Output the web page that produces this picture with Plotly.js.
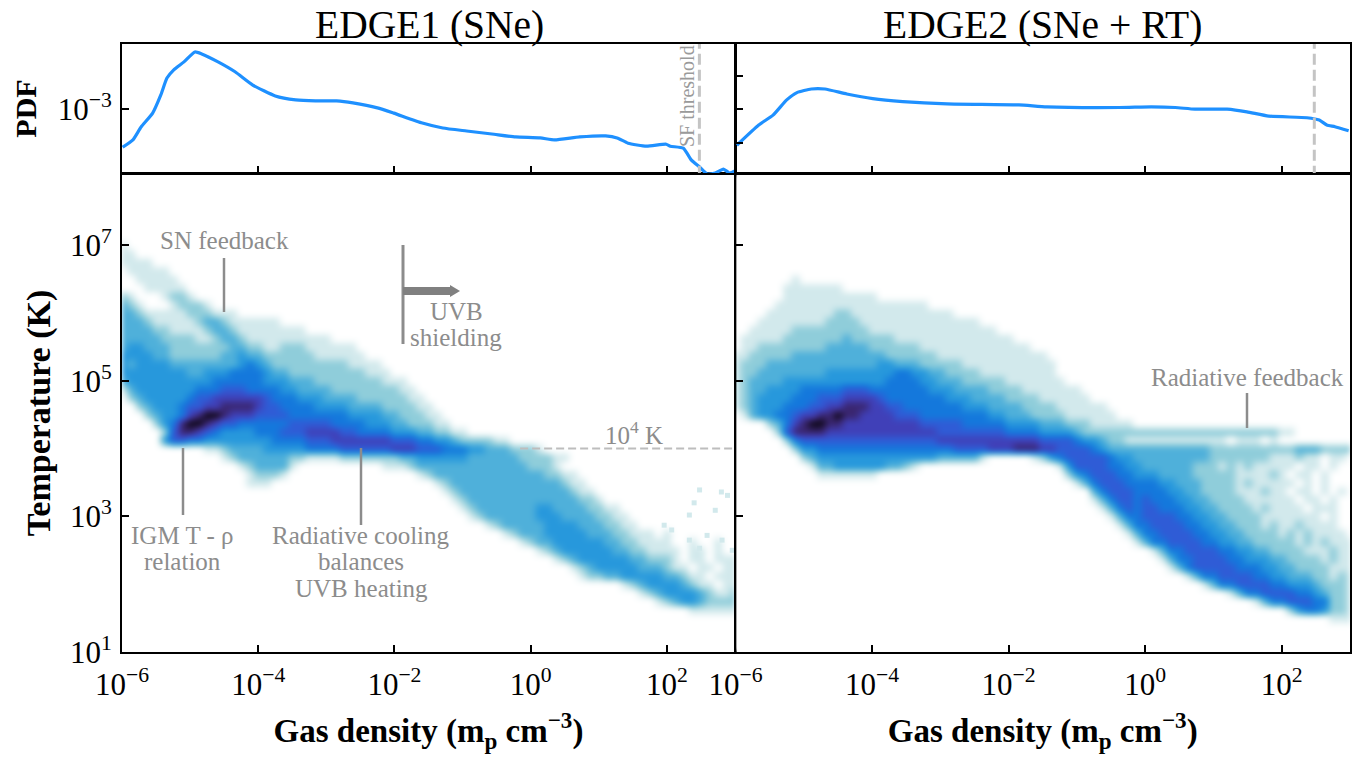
<!DOCTYPE html>
<html><head><meta charset="utf-8">
<script src="https://cdn.plot.ly/plotly-3.0.1.min.js"></script>
<style>html,body{margin:0;padding:0;background:#fff}#c{width:1362px;height:757px}.hm image{filter:blur(2.5px)}</style>
</head><body><div id="c"></div>
<script>
// log10 density bin centres (one group of eight per dex) and log10 temperature bin centres (top row first)
const logDensity=[-6,-5.875,-5.75,-5.625,-5.5,-5.375,-5.25,-5.125,-5,-4.875,-4.75,-4.625,-4.5,-4.375,-4.25,-4.125,-4,-3.875,-3.75,-3.625,-3.5,-3.375,-3.25,-3.125,-3,-2.875,-2.75,-2.625,-2.5,-2.375,-2.25,-2.125,-2,-1.875,-1.75,-1.625,-1.5,-1.375,-1.25,-1.125,-1,-0.875,-0.75,-0.625,-0.5,-0.375,-0.25,-0.125,0,0.125,0.25,0.375,0.5,0.625,0.75,0.875,1,1.125,1.25,1.375,1.5,1.625,1.75,1.875,2,2.125,2.25,2.375,2.5,2.625,2.75,2.875,3];
const logTemp=[8,7.875,7.75,7.625,7.5,7.375,7.25,7.125,7,6.875,6.75,6.625,6.5,6.375,6.25,6.125,6,5.875,5.75,5.625,5.5,5.375,5.25,5.125,5,4.875,4.75,4.625,4.5,4.375,4.25,4.125,4,3.875,3.75,3.625,3.5,3.375,3.25,3.125,3,2.875,2.75,2.625,2.5,2.375,2.25,2.125,2,1.875,1.75,1.625,1.5,1.375,1.25,1.125,1];
// density levels 0-9; each row may stop early, the rest of it is empty
const histEdge1Rows=[
"","","","","","","","",
"10000000",
"11000000",
"11110000",
"01111100",
"00111110",
"00011111",
"21000122 10000000",
"32100012 22100000",
"33211111 22211100",
"33321111 12332111 11100000",
"33332211 11233211 11111100",
"33333222 21123321 11111111 10000000",
"34433322 22222332 21122211 11110000",
"44443322 22223343 32222221 11111000",
"43444433 33333345 43222222 22211110",
"44444444 33444555 54332222 22222111",
"34444444 44455555 54443332 22222221 11000000",
"13444444 45556665 55544333 32222222 21100000",
"02344444 56677777 76555444 33332222 22110000",
"00234445 66778888 76655554 44433332 22211000",
"00023445 78998777 66665555 55544443 32221100",
"00002458 99876655 55556666 65555444 33222110",
"00000268 87654444 55566677 77665555 44433221 10000000",
"00000466 55444444 44555566 67777777 66655443 22221100",
"00000000 00112333 34444455 55666666 77766655 54433322 21000000",
"00000000 00001233 33332211 11222222 23344444 43333332 22211000",
"00000000 00000012 33331000 00000001 11233333 33333333 22210000",
"00000000 00000001 22210000 00000000 00012333 33333333 33221100",
"00000000 00000001 11000000 00000000 00000123 33333333 33332110",
"00000000 00000000 00000000 00000000 00000012 33333333 33333211",
"00000000 00000000 00000000 00000000 00000001 23333333 33333322 10000000",
"00000000 00000000 00000000 00000000 00000000 12333333 34433332 21100000",
"00000000 00000000 00000000 00000000 00000000 01233333 34443333 22110000",
"00000000 00000000 00000000 00000000 00000000 00012333 33444433 32211000",
"00000000 00000000 00000000 00000000 00000000 00000123 33444443 33221110 10000000",
"00000000 00000000 00000000 00000000 00000000 00000001 23344444 43322111 10010010",
"00000000 00000000 00000000 00000000 00000000 00000000 01234444 44332211 11011010",
"00000000 00000000 00000000 00000000 00000000 00000000 00012344 44443322 21011011 1",
"00000000 00000000 00000000 00000000 00000000 00000000 00000123 44444333 21101101 1",
"00000000 00000000 00000000 00000000 00000000 00000000 00000012 23344444 33211011 1",
"00000000 00000000 00000000 00000000 00000000 00000000 00000000 00012344 44321101 1",
"00000000 00000000 00000000 00000000 00000000 00000000 00000000 00000123 44443211 2",
"00000000 00000000 00000000 00000000 00000000 00000000 00000000 00000001 23443222 2",
"00000000 00000000 00000000 00000000 00000000 00000000 00000000 00000000 00011111 1",
"","","","",""
];
const histEdge2Rows=[
"","","","","","","","","","","","",
"00000001",
"00000011 11111000",
"00000011 11111111 10000000",
"00000111 11111111 11111110",
"00001111 11112211 11111111 11000000",
"00011111 11122221 11111111 11111000",
"00111112 22222222 11111111 11111110",
"01111122 22222322 22211111 11111111 10000000",
"01122222 22233333 22222211 11111111 11100000",
"11222223 33333333 33222222 11111111 11111000",
"12223333 33333333 34433322 22211111 11111100",
"12233333 33344444 44455443 32222111 11111100",
"12333344 44444444 44555544 33322222 11111110",
"12334444 55555666 55555554 44333322 22111111 10000000",
"12344445 55666777 76555555 54443333 22221111 11000000",
"12344455 56677888 77665555 55544433 33222211 11110000",
"01344556 77889887 77766655 55555544 33322221 11111000",
"00002357 89988777 77777766 66655555 44443332 22111110",
"00000268 88877777 77777777 66666666 55554444 32222222 22222222 22222222 11000000",
"00000025 66666666 66666666 77777777 77776666 54432211 11111111 11011101 00000000",
"00000002 44555555 55555555 55666677 78887766 66543333 33333333 22222222 22333222 2",
"00000000 23444444 44444444 33333100 00012456 66665443 33333333 22222221 11211011",
"00000000 01334444 44332100 00000000 00000014 66665544 33333322 21212111 11011010",
"00000000 00111111 10000000 00000000 00000002 45666554 44333322 22211112 10110100",
"00000000 00000000 00000000 00000000 00000000 13566655 55443332 22212111 11010100",
"00000000 00000000 00000000 00000000 00000000 00356665 55544332 22211121 10110101",
"00000000 00000000 00000000 00000000 00000000 00135665 65554433 22221111 11011010",
"00000000 00000000 00000000 00000000 00000000 00013565 66555443 32222121 11101110",
"00000000 00000000 00000000 00000000 00000000 00001355 66665544 33222211 11111010",
"00000000 00000000 00000000 00000000 00000000 00000135 56666554 43322212 11211110",
"00000000 00000000 00000000 00000000 00000000 00000013 55666655 44332222 12121111",
"00000000 00000000 00000000 00000000 00000000 00000001 35566665 54433222 22121211 1",
"00000000 00000000 00000000 00000000 00000000 00000000 01355666 65544332 22211121 1",
"00000000 00000000 00000000 00000000 00000000 00000000 00135566 66554443 32222121 1",
"00000000 00000000 00000000 00000000 00000000 00000000 00013566 66655544 33222211 1",
"00000000 00000000 00000000 00000000 00000000 00000000 00000135 56666554 43332212 1",
"00000000 00000000 00000000 00000000 00000000 00000000 00000001 35566665 54443222 1",
"00000000 00000000 00000000 00000000 00000000 00000000 00000000 00135566 66554322 1",
"00000000 00000000 00000000 00000000 00000000 00000000 00000000 00000135 56665522 1",
"00000000 00000000 00000000 00000000 00000000 00000000 00000000 00000000 02455422 1",
"00000000 00000000 00000000 00000000 00000000 00000000 00000000 00000000 00000011 1",
"","","",""
];
const speckleLogN=[2.48,2.80,2.40,2.71,2.89,2.33,2.07,1.96,2.59,2.81,2.96,2.48,2.33];
const speckleLogT=[3.39,3.36,3.20,3.09,3.31,3.02,2.80,2.87,2.72,2.65,2.50,2.53,2.65];
const pdf1LogN=[-5.99,-5.84,-5.72,-5.55,-5.43,-5.34,-5.24,-5.09,-4.93,-4.83,-4.59,-4.34,-4.08,-3.75,-3.45,-3.16,-2.85,-2.61,-2.25,-2.01,-1.59,-1.29,-0.94,-0.57,-0.22,0.14,0.35,0.72,1.10,1.27,1.43,1.70,1.99,2.05,2.24,2.36,2.48,2.59,2.71,2.83,2.92,3.0];
const pdf1Log=[-4.14,-3.92,-3.53,-3.11,-2.56,-2.05,-1.80,-1.56,-1.26,-1.32,-1.56,-1.86,-2.26,-2.59,-2.71,-2.74,-2.74,-2.80,-2.95,-3.11,-3.41,-3.56,-3.65,-3.74,-3.83,-3.86,-3.92,-3.83,-3.80,-3.86,-4.02,-4.11,-4.05,-4.11,-4.17,-4.53,-4.74,-4.95,-4.92,-4.80,-4.92,-4.86];
const pdf2LogN=[-5.98,-5.66,-5.45,-5.25,-5.10,-4.89,-4.69,-4.37,-3.99,-3.55,-2.90,-1.85,-1.44,-0.38,0.09,0.44,0.73,1.20,1.49,1.81,2.37,2.55,2.66,2.78,2.98];
const pdf2Log=[-4.08,-3.47,-3.17,-2.71,-2.49,-2.38,-2.38,-2.53,-2.67,-2.76,-2.83,-2.86,-2.92,-2.94,-2.92,-2.94,-2.99,-2.99,-3.07,-3.20,-3.25,-3.32,-3.47,-3.52,-3.64];
const sfThreshold=300;
const tempLine=1e4;
const xTicks=[1e-6,1e-4,1e-2,1,1e2];
const xTickText=['10<sup>\u22126</sup>','10<sup>\u22124</sup>','10<sup>\u22122</sup>','10<sup>0</sup>','10<sup>2</sup>'];
const yTicks=[1e1,1e3,1e5,1e7];
const yTickText=['10<sup>1</sup>','10<sup>3</sup>','10<sup>5</sup>','10<sup>7</sup>'];

const W=1362,H=757,SERIF='"Liberation Serif","Times New Roman",serif';
const pow=a=>a.map(v=>Math.pow(10,v));
const px=x=>x/W, py=y=>1-y/H;
const parseRows=rows=>rows.map(s=>s.replace(/ /g,'').padEnd(logDensity.length,'0').split('').map(Number));
const cs=[[0,'#ffffff'],[0.05,'#edf6f7'],[0.111,'#d2e9ec'],[0.222,'#8fcdda'],[0.333,'#4fb0da'],[0.444,'#2798dc'],[0.556,'#1478dc'],[0.667,'#2f5cd6'],[0.778,'#4040b8'],[0.889,'#3a2670'],[1,'#0e0818']];
function heat(rows,xa,ya){return {type:'heatmap',x:pow(logDensity),y:pow(logTemp),z:parseRows(rows),xaxis:xa,yaxis:ya,colorscale:cs,zmin:0,zmax:9,zsmooth:'best',showscale:false,hoverinfo:'skip'};}
function pdf(a,b,xa,ya){return {type:'scatter',mode:'lines',x:pow(a),y:pow(b),xaxis:xa,yaxis:ya,line:{color:'#1e90ff',width:3.2,shape:'spline',smoothing:0.5},hoverinfo:'skip',showlegend:false};}
function dash(x,y,xa,ya,w,c,d){return {type:'scatter',mode:'lines',x:x,y:y,xaxis:xa,yaxis:ya,line:{color:c,width:w,dash:d},hoverinfo:'skip',showlegend:false};}
const traces=[
 heat(histEdge1Rows,'x','y'),
 heat(histEdge2Rows,'x2','y2'),
 {type:'scatter',mode:'markers',x:pow(speckleLogN),y:pow(speckleLogT),xaxis:'x',yaxis:'y',marker:{symbol:'square',size:5,color:'#d2e9ec'},hoverinfo:'skip',showlegend:false},
 dash([0.7,1000],[tempLine,tempLine],'x','y',2,'#bdbdbd','8px,4px'),
 pdf(pdf1LogN,pdf1Log,'x3','y3'),
 pdf(pdf2LogN,pdf2Log,'x4','y4'),
 dash([sfThreshold,sfThreshold],[1e-6,1],'x3','y3',3,'#c4c4c4','11px,5px'),
 dash([sfThreshold,sfThreshold],[1e-6,1],'x4','y4',3,'#c4c4c4','11px,5px')
];
const baseAx={type:'log',showgrid:false,zeroline:false,showline:true,mirror:true,linecolor:'#000',linewidth:2,ticks:'inside',ticklen:7,tickwidth:2,tickcolor:'#000',tickfont:{family:SERIF,size:31,color:'#000'},layer:'above traces'};
const xRange=[-6,3],yRange=[1,8.05],pRange=[-4.92,-1.02];
const titleFont={family:SERIF,size:33,color:'#000',weight:700};
const gasTitle={text:'Gas density (m<sub>p</sub> cm<sup>\u22123</sup>)',font:titleFont,standoff:18};
const xm1=[122/W,735/W],xm2=[735.5/W,1350/W],ym=[py(652),py(174)],yp=[py(173),py(44)];
const layout={
 width:W,height:H,margin:{l:0,r:0,t:0,b:0},paper_bgcolor:'#fff',plot_bgcolor:'#fff',showlegend:false,
 xaxis:{...baseAx,domain:xm1,anchor:'y',range:xRange,tickmode:'array',tickvals:xTicks,ticktext:xTickText,title:gasTitle,ticklabelstandoff:4},
 yaxis:{...baseAx,domain:ym,anchor:'x',range:yRange,tickmode:'array',tickvals:yTicks,ticktext:yTickText,title:{text:'Temperature (K)',font:{...titleFont,size:34},standoff:9},ticklabelstandoff:2},
 xaxis2:{...baseAx,domain:xm2,anchor:'y2',range:xRange,tickmode:'array',tickvals:xTicks,ticktext:xTickText,title:gasTitle,ticklabelstandoff:4},
 yaxis2:{...baseAx,domain:ym,anchor:'x2',range:yRange,tickmode:'array',tickvals:yTicks,showticklabels:false},
 xaxis3:{...baseAx,domain:xm1,anchor:'y3',range:xRange,tickmode:'array',tickvals:xTicks,showticklabels:false},
 yaxis3:{...baseAx,domain:yp,anchor:'x3',range:pRange,tickmode:'array',tickvals:[1e-3],ticktext:['10<sup>\u22123</sup>'],title:{text:'PDF',font:{...titleFont,size:30},standoff:12},ticklabelstandoff:2},
 xaxis4:{...baseAx,domain:xm2,anchor:'y4',range:xRange,tickmode:'array',tickvals:xTicks,showticklabels:false},
 yaxis4:{...baseAx,domain:yp,anchor:'x4',range:pRange,tickmode:'array',tickvals:[1e-4,1e-3,1e-2],showticklabels:false},
 annotations:[],shapes:[]
};
const GR='#8c8c8c';
function note(text,x,y,size,extra){layout.annotations.push(Object.assign({text:text,xref:'paper',yref:'paper',x:px(x),y:py(y),xanchor:'center',yanchor:'middle',showarrow:false,font:{family:SERIF,size:size,color:GR}},extra||{}));}
function seg(x0,y0,x1,y1,w,c){layout.shapes.push({type:'line',xref:'paper',yref:'paper',x0:px(x0),y0:py(y0),x1:px(x1),y1:py(y1),line:{color:c||GR,width:w}});}
note('EDGE1 (SNe)',429,25,39.5,{font:{family:SERIF,size:39.5,color:'#000'}});
note('EDGE2 (SNe + RT)',1042,25,39.5,{font:{family:SERIF,size:39.5,color:'#000'}});
note('SN feedback',224,241,25);seg(224,258,224,312,2.5);
note('IGM T - \u03c1',183,535,25);note('relation',183,561,25);seg(183,448,183,515,2.5);
note('Radiative cooling',361,535,25);note('balances',361,561,25);note('UVB heating',361,588,25);seg(361,448,361,525,2.5);
note('UVB',456,311,25);note('shielding',456,337,25);seg(403,245,403,344,3);
seg(403,291,451,291,8,'#808080');
layout.shapes.push({type:'path',xref:'paper',yref:'paper',path:`M ${px(450)} ${py(285)} L ${px(460)} ${py(291)} L ${px(450)} ${py(297)} Z`,fillcolor:'#808080',line:{width:0}});
note('10<sup>4</sup> K',634,433,25);
note('SF threshold',687,96,20,{textangle:-90,font:{family:SERIF,size:20,color:'#9a9a9a'}});
note('Radiative feedback',1247,378,25);seg(1247,393,1247,428,2.5);
Plotly.newPlot('c',traces,layout,{displayModeBar:false,staticPlot:true});
</script></body></html>
